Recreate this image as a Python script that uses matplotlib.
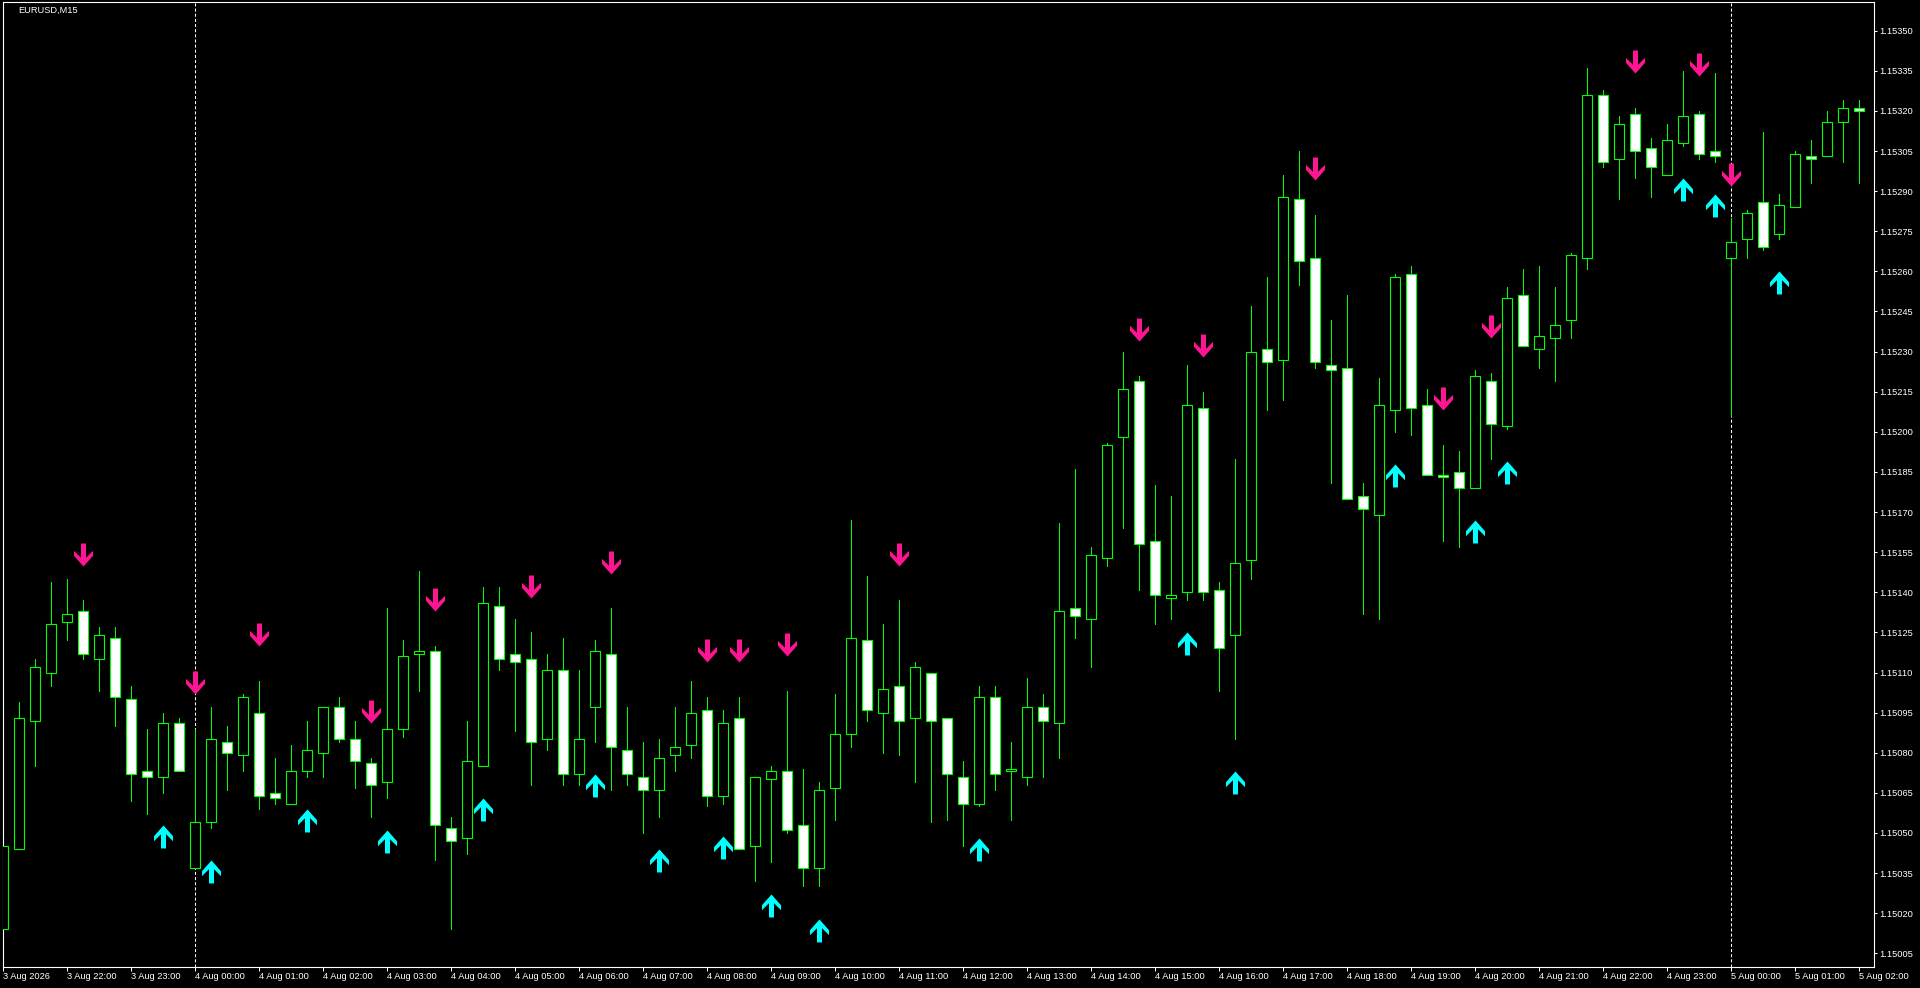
import numpy as np
import matplotlib.pyplot as plt
from matplotlib.path import Path

plt.rcParams['font.family'] = ['Liberation Sans', 'DejaVu Sans']
plt.rcParams['lines.scale_dashes'] = False

# EURUSD M15, 3 Aug 21:00 .. 5 Aug 02:00 (117 bars)
open_ = [1.15014, 1.15044, 1.15092, 1.15110, 1.15129, 1.15133, 1.15115, 1.15123, 1.15100, 1.15073,
         1.15071, 1.15091, 1.15037, 1.15054, 1.15084, 1.15079, 1.15095, 1.15065, 1.15061, 1.15073,
         1.15080, 1.15097, 1.15085, 1.15076, 1.15069, 1.15089, 1.15117, 1.15118, 1.15052, 1.15048,
         1.15075, 1.15135, 1.15117, 1.15115, 1.15085, 1.15111, 1.15072, 1.15097, 1.15117, 1.15081,
         1.15071, 1.15066, 1.15079, 1.15083, 1.15096, 1.15064, 1.15093, 1.15045, 1.15070, 1.15073,
         1.15053, 1.15037, 1.15067, 1.15087, 1.15122, 1.15095, 1.15105, 1.15093, 1.15110, 1.15093,
         1.15071, 1.15061, 1.15101, 1.15073, 1.15071, 1.15097, 1.15091, 1.15134, 1.15130, 1.15153,
         1.15198, 1.15219, 1.15159, 1.15138, 1.15140, 1.15209, 1.15141, 1.15124, 1.15152, 1.15231,
         1.15227, 1.15287, 1.15265, 1.15225, 1.15224, 1.15176, 1.15169, 1.15208, 1.15259, 1.15210,
         1.15184, 1.15185, 1.15179, 1.15219, 1.15202, 1.15251, 1.15231, 1.15235, 1.15242, 1.15265,
         1.15326, 1.15302, 1.15319, 1.15306, 1.15296, 1.15308, 1.15319, 1.15305, 1.15265, 1.15272,
         1.15286, 1.15274, 1.15284, 1.15303, 1.15303, 1.15316, 1.15321]
high = [1.15058, 1.15099, 1.15115, 1.15144, 1.15145, 1.15137, 1.15127, 1.15127, 1.15105, 1.15089,
        1.15095, 1.15093, 1.15089, 1.15097, 1.15090, 1.15102, 1.15107, 1.15078, 1.15083, 1.15092,
        1.15097, 1.15101, 1.15092, 1.15078, 1.15134, 1.15122, 1.15148, 1.15120, 1.15056, 1.15092,
        1.15142, 1.15142, 1.15130, 1.15125, 1.15117, 1.15123, 1.15111, 1.15122, 1.15134, 1.15097,
        1.15084, 1.15085, 1.15097, 1.15107, 1.15101, 1.15096, 1.15101, 1.15071, 1.15075, 1.15103,
        1.15074, 1.15069, 1.15102, 1.15167, 1.15146, 1.15128, 1.15137, 1.15114, 1.15110, 1.15093,
        1.15077, 1.15105, 1.15105, 1.15084, 1.15108, 1.15102, 1.15166, 1.15186, 1.15157, 1.15196,
        1.15230, 1.15221, 1.15180, 1.15176, 1.15225, 1.15215, 1.15144, 1.15190, 1.15247, 1.15258,
        1.15296, 1.15305, 1.15281, 1.15242, 1.15251, 1.15181, 1.15220, 1.15259, 1.15262, 1.15216,
        1.15195, 1.15193, 1.15223, 1.15222, 1.15254, 1.15261, 1.15262, 1.15254, 1.15267, 1.15336,
        1.15328, 1.15318, 1.15321, 1.15310, 1.15315, 1.15335, 1.15320, 1.15334, 1.15280, 1.15283,
        1.15312, 1.15289, 1.15305, 1.15309, 1.15320, 1.15324, 1.15324]
low = [1.15011, 1.15044, 1.15075, 1.15105, 1.15122, 1.15115, 1.15103, 1.15090, 1.15062, 1.15057,
       1.15065, 1.15073, 1.15037, 1.15052, 1.15066, 1.15073, 1.15059, 1.15061, 1.15061, 1.15071,
       1.15071, 1.15084, 1.15067, 1.15056, 1.15063, 1.15086, 1.15103, 1.15040, 1.15014, 1.15042,
       1.15075, 1.15111, 1.15088, 1.15068, 1.15081, 1.15068, 1.15068, 1.15084, 1.15066, 1.15068,
       1.15050, 1.15056, 1.15073, 1.15078, 1.15060, 1.15061, 1.15044, 1.15032, 1.15039, 1.15050,
       1.15030, 1.15030, 1.15055, 1.15082, 1.15092, 1.15080, 1.15079, 1.15069, 1.15054, 1.15055,
       1.15045, 1.15060, 1.15066, 1.15055, 1.15068, 1.15071, 1.15078, 1.15123, 1.15112, 1.15150,
       1.15164, 1.15141, 1.15128, 1.15130, 1.15137, 1.15137, 1.15103, 1.15085, 1.15145, 1.15208,
       1.15212, 1.15255, 1.15224, 1.15181, 1.15175, 1.15132, 1.15130, 1.15200, 1.15199, 1.15184,
       1.15159, 1.15157, 1.15179, 1.15190, 1.15201, 1.15232, 1.15224, 1.15219, 1.15235, 1.15261,
       1.15299, 1.15287, 1.15295, 1.15288, 1.15296, 1.15307, 1.15302, 1.15301, 1.15206, 1.15265,
       1.15268, 1.15272, 1.15284, 1.15293, 1.15303, 1.15301, 1.15293]
close = [1.15045, 1.15093, 1.15112, 1.15128, 1.15132, 1.15117, 1.15124, 1.15101, 1.15072, 1.15071,
         1.15091, 1.15073, 1.15054, 1.15085, 1.15080, 1.15101, 1.15064, 1.15063, 1.15073, 1.15081,
         1.15097, 1.15085, 1.15077, 1.15068, 1.15089, 1.15116, 1.15118, 1.15053, 1.15047, 1.15077,
         1.15136, 1.15115, 1.15114, 1.15084, 1.15111, 1.15072, 1.15085, 1.15118, 1.15082, 1.15072,
         1.15066, 1.15078, 1.15082, 1.15095, 1.15064, 1.15091, 1.15044, 1.15071, 1.15073, 1.15051,
         1.15037, 1.15066, 1.15087, 1.15123, 1.15096, 1.15104, 1.15092, 1.15112, 1.15092, 1.15072,
         1.15061, 1.15101, 1.15072, 1.15074, 1.15097, 1.15092, 1.15133, 1.15131, 1.15154, 1.15195,
         1.15216, 1.15158, 1.15139, 1.15139, 1.15210, 1.15140, 1.15119, 1.15151, 1.15230, 1.15226,
         1.15288, 1.15264, 1.15226, 1.15223, 1.15175, 1.15171, 1.15210, 1.15258, 1.15209, 1.15184,
         1.15183, 1.15179, 1.15221, 1.15203, 1.15250, 1.15232, 1.15236, 1.15240, 1.15266, 1.15326,
         1.15301, 1.15315, 1.15305, 1.15299, 1.15309, 1.15318, 1.15304, 1.15303, 1.15271, 1.15282,
         1.15269, 1.15285, 1.15304, 1.15302, 1.15316, 1.15321, 1.15320]

# signal arrows: bar index and price of the arrow tip
sell_bars = [5, 12, 16, 23, 27, 33, 38, 44, 46, 49, 56, 71, 75, 82, 90, 93, 102, 106, 108]
sell_price = [1.15150, 1.15102, 1.15120, 1.15091, 1.15133, 1.15138, 1.15147, 1.15114, 1.15114, 1.15116,
              1.15150, 1.15234, 1.15228, 1.15294, 1.15208, 1.15235, 1.15334, 1.15333, 1.15292]
buy_bars = [10, 13, 19, 24, 30, 37, 41, 45, 48, 51, 61, 74, 77, 87, 92, 94, 105, 107, 111]
buy_price = [1.15053, 1.15040, 1.15059, 1.15051, 1.15063, 1.15072, 1.15044, 1.15049, 1.15027, 1.15018,
             1.15048, 1.15125, 1.15073, 1.15188, 1.15167, 1.15189, 1.15295, 1.15289, 1.15260]

time_labels = ['3 Aug 2026', '3 Aug 22:00', '3 Aug 23:00',
               '4 Aug 00:00', '4 Aug 01:00', '4 Aug 02:00', '4 Aug 03:00', '4 Aug 04:00', '4 Aug 05:00',
               '4 Aug 06:00', '4 Aug 07:00', '4 Aug 08:00', '4 Aug 09:00', '4 Aug 10:00', '4 Aug 11:00',
               '4 Aug 12:00', '4 Aug 13:00', '4 Aug 14:00', '4 Aug 15:00', '4 Aug 16:00', '4 Aug 17:00',
               '4 Aug 18:00', '4 Aug 19:00', '4 Aug 20:00', '4 Aug 21:00', '4 Aug 22:00', '4 Aug 23:00',
               '5 Aug 00:00', '5 Aug 01:00', '5 Aug 02:00']
day_breaks = [12, 108]

o = np.array(open_)
c = np.array(close)
x = np.arange(len(c))
bull = c >= o

fig = plt.figure(figsize=(19.2, 9.88), dpi=100, facecolor='black')
ax = fig.add_axes([2.5 / 1920, 1 - 967 / 988, 1871.5 / 1920, 964.7 / 988])
ax.set_facecolor('black')

green = '#00ff00'
ax.vlines(x, low, high, color=green, lw=0.72, antialiased=False, zorder=2)
ax.bar(x, np.maximum(np.abs(c - o), 1e-7), bottom=np.minimum(o, c), width=0.625,
       color=np.where(bull, 'black', 'white'), edgecolor=green, linewidth=0.8, zorder=3)

for b in day_breaks:
    ax.axvline(b, color='white', lw=0.75, dashes=(2.2, 1.5), zorder=1)

# thick MT4-style arrows, tip at origin
down_path = Path([(0, 0), (-9.5, 10.7), (-9.5, 15.7), (-2.5, 8.7), (-2.5, 23), (2.5, 23),
                  (2.5, 8.7), (9.5, 15.7), (9.5, 10.7), (0, 0)])
up_path = Path([(px, -py) for px, py in down_path.vertices])
ax.plot(sell_bars, sell_price, ls='none', marker=down_path, ms=33.1, color='#ff1493', mew=0, zorder=4)
ax.plot(buy_bars, buy_price, ls='none', marker=up_path, ms=33.1, color='#00ffff', mew=0, zorder=4)

ax.set_xlim(-0.03, 116.94)
ax.set_ylim(1.1499988, 1.1536062)

ax.yaxis.tick_right()
yt = np.arange(1.15005, 1.153505, 0.00015)
ax.set_yticks(yt)
ax.set_yticklabels(['%.5f' % v for v in yt])
ax.set_xticks(x[::4])
ax.set_xticklabels(time_labels, ha='left')
ax.tick_params(axis='y', colors='white', length=2.5, width=0.75, pad=1.2, labelsize=6.7)
ax.tick_params(axis='x', colors='white', length=2.9, width=0.75, pad=0.6, labelsize=6.7)
for s in ax.spines.values():
    s.set_color('white')
    s.set_linewidth(0.8)

fig.text(18 / 1920, 1 - 10.5 / 988, 'EURUSD,M15', color='white', fontsize=6.7, va='center')

fig.savefig('out.png', dpi=100, facecolor='black')
